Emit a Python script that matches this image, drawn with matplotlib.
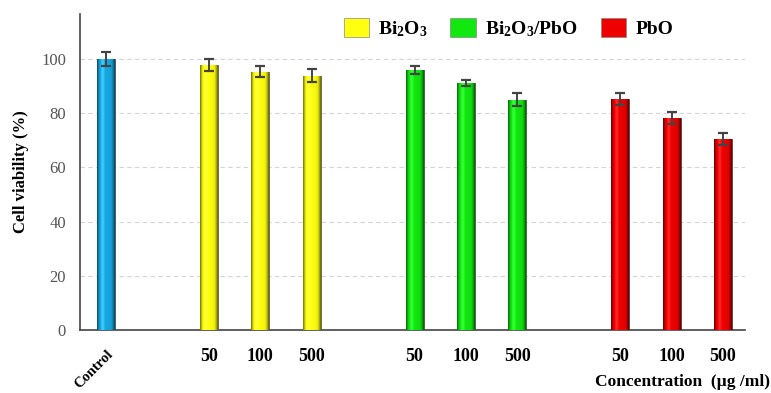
import numpy as np
import matplotlib
matplotlib.use("Agg")
import matplotlib.pyplot as plt
from matplotlib.patches import Patch
from matplotlib.colors import to_rgb

plt.rcParams["font.family"] = ["Liberation Serif", "DejaVu Serif"]
plt.rcParams["mathtext.fontset"] = "custom"
plt.rcParams["mathtext.rm"] = "Liberation Serif:bold"
plt.rcParams["mathtext.it"] = "Liberation Serif:bold"
plt.rcParams["mathtext.bf"] = "Liberation Serif:bold"

# data
positions = [0, 2, 3, 4, 6, 7, 8, 10, 11, 12]
tick_labels = ["Control", "50", "100", "500", "50", "100", "500", "50", "100", "500"]
viability = [100.0, 97.8, 95.3, 93.9, 96.0, 91.0, 85.0, 85.2, 78.1, 70.4]
errors = [2.6, 2.2, 2.0, 2.4, 1.4, 1.1, 2.4, 2.1, 2.2, 2.2]
groups = ["Control", "Bi2O3", "Bi2O3", "Bi2O3", "Bi2O3/PbO", "Bi2O3/PbO", "Bi2O3/PbO",
          "PbO", "PbO", "PbO"]
group_colors = {"Control": "#18a8e2", "Bi2O3": "#ffff10", "Bi2O3/PbO": "#10e810",
                "PbO": "#ee0000"}
legend_groups = ["Bi2O3", "Bi2O3/PbO", "PbO"]
legend_labels = [r"$\mathrm{Bi_2O_3}$", r"$\mathrm{Bi_2O_3/PbO}$", "PbO"]


def shade(color, n=40):
    # cylinder-like shading: dark rims, flat body, soft highlight
    t = np.linspace(0, 1, n)
    prof = np.interp(t, [0, 0.12, 0.3, 0.45, 0.8, 0.92, 1.0],
                     [0.45, 0.9, 1.12, 1.0, 0.95, 0.7, 0.4])
    rgb = np.array(to_rgb(color))
    img = rgb[None, :] * np.minimum(prof, 1)[:, None]
    img = img + np.maximum(prof - 1, 0)[:, None] * 1.5
    return np.clip(img, 0, 1)[None, :, :]


fig = plt.figure(figsize=(7.71, 3.93), dpi=100)
ax = fig.add_axes([80 / 771, 1 - 330 / 393, 665 / 771, 316 / 393])

width = 0.35
cols = [group_colors[g] for g in groups]
bars = ax.bar(positions, viability, width=width, color=cols,
              edgecolor="#333333", linewidth=0.5, zorder=3)
for b, c in zip(bars, cols):
    x0 = b.get_x()
    im = ax.imshow(shade(c), extent=(x0, x0 + b.get_width(), 0, b.get_height()),
                   aspect="auto", zorder=3.5, interpolation="bilinear")
    im.set_clip_path(b)

ax.errorbar(positions, viability, yerr=errors, fmt="none", ecolor="#444444",
            elinewidth=1.4, capsize=3.5, capthick=1.6, zorder=4)

ax.set_xlim(-0.51, 12.43)
ax.set_ylim(0, 116.6)
ax.set_yticks([0, 20, 40, 60, 80, 100])
ax.yaxis.grid(True, linestyle=(0, (4, 3)), color="#d4d4d4", linewidth=0.8, zorder=0)
ax.set_axisbelow(True)
for s in ["top", "right"]:
    ax.spines[s].set_visible(False)
ax.spines["left"].set_color("#444444")
ax.spines["bottom"].set_color("#444444")
ax.spines["left"].set_linewidth(1.2)
ax.spines["bottom"].set_linewidth(1.2)
ax.tick_params(axis="both", length=0)
ax.tick_params(axis="y", labelsize=12, labelcolor="#555555", pad=10)
ax.tick_params(axis="x", labelsize=13, pad=13)

ax.set_xticks(positions)
ax.set_xticklabels(tick_labels, fontweight="bold")
ctrl = ax.get_xticklabels()[0]
ctrl.set_rotation(45)
ctrl.set_ha("right")
ctrl.set_rotation_mode("anchor")
ctrl.set_fontsize(10.5)

ax.set_ylabel("Cell viability (%)", fontsize=12, fontweight="bold", labelpad=9)
fig.text(0.999, 0.008, "Concentration  (\u00b5g /ml)", ha="right", va="bottom",
         fontsize=12.5, fontweight="bold")

handles = [Patch(facecolor=group_colors[g], edgecolor="#888888", linewidth=0.5)
           for g in legend_groups]
fig.legend(handles, legend_labels, loc="upper left", bbox_to_anchor=(326 / 771, 1.0),
           ncol=3, frameon=False, prop={"family": "Liberation Serif", "weight": "bold",
                                        "size": 14},
           handlelength=1.3, handleheight=1.2, handletextpad=0.5, columnspacing=1.15)

fig.savefig("out.png", dpi=100)
